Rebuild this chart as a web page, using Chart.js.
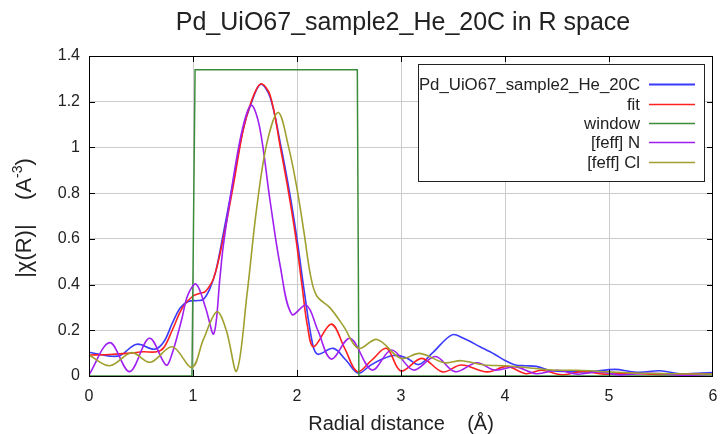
<!DOCTYPE html>
<html>
<head>
<meta charset="utf-8">
<script src="https://cdn.jsdelivr.net/npm/chart.js@4.4.1/dist/chart.umd.min.js"></script>
<style>
  html, body { margin: 0; padding: 0; background: #fff; }
  canvas { display: block; }
</style>
</head>
<body>
<canvas id="chart" width="720" height="434"></canvas>
<script>
// values (R in angstrom, |chi(R)|)
const dataR   = [0, 0.1, 0.2, 0.3, 0.46, 0.63, 0.72, 0.8, 0.88, 0.96, 1.05, 1.1, 1.16, 1.22, 1.29, 1.39, 1.48, 1.56, 1.65, 1.74, 1.84, 1.93, 2.0, 2.07, 2.15, 2.2, 2.35, 2.47, 2.59, 2.7, 2.8, 2.93, 3.05, 3.17, 3.3, 3.49, 3.6, 3.76, 3.9, 4.0, 4.1, 4.2, 4.3, 4.45, 4.6, 4.8, 5.06, 5.2, 5.3, 5.49, 5.68, 5.85, 6.0];
const dataChi = [0.104, 0.095, 0.087, 0.09, 0.139, 0.117, 0.15, 0.23, 0.3, 0.327, 0.33, 0.335, 0.38, 0.46, 0.62, 0.857, 1.076, 1.193, 1.276, 1.222, 1.018, 0.8, 0.6, 0.37, 0.14, 0.095, 0.121, 0.07, 0.012, 0.045, 0.07, 0.09, 0.08, 0.05, 0.1, 0.18, 0.165, 0.128, 0.095, 0.068, 0.048, 0.045, 0.042, 0.023, 0.02, 0.018, 0.029, 0.02, 0.016, 0.023, 0.01, 0.012, 0.015];

const fitR   = [0, 0.2, 0.4, 0.52, 0.65, 0.72, 0.8, 0.9, 1.0, 1.07, 1.12, 1.2, 1.29, 1.39, 1.48, 1.56, 1.65, 1.74, 1.84, 1.92, 1.99, 2.05, 2.1, 2.16, 2.33, 2.46, 2.58, 2.72, 2.86, 3.0, 3.2, 3.4, 3.58, 3.83, 4.02, 4.2, 4.35, 4.55, 4.74, 4.95, 5.2, 5.5, 5.8, 6.0];
const fitChi = [0.092, 0.094, 0.1, 0.106, 0.106, 0.125, 0.2, 0.3, 0.35, 0.362, 0.37, 0.43, 0.6, 0.84, 1.07, 1.2, 1.278, 1.23, 1.0, 0.8, 0.6, 0.39, 0.22, 0.128, 0.227, 0.12, 0.019, 0.07, 0.121, 0.022, 0.077, 0.018, 0.048, 0.018, 0.042, 0.01, 0.025, 0.005, 0.02, 0.008, 0.012, 0.006, 0.01, 0.008];

const windowR   = [0, 0.99, 1.02, 2.58, 2.595, 6];
const windowVal = [0, 0, 1.34, 1.34, 0, 0];

const nR   = [0, 0.2, 0.39, 0.58, 0.74, 0.79, 0.89, 0.95, 1.03, 1.12, 1.2, 1.26, 1.29, 1.39, 1.48, 1.56, 1.64, 1.74, 1.84, 1.95, 2.09, 2.2, 2.33, 2.51, 2.72, 2.91, 3.12, 3.33, 3.52, 3.73, 3.9, 4.1, 4.3, 4.5, 4.7, 4.9, 5.1, 5.4, 5.7, 6.0];
const nChi = [0.005, 0.146, 0.019, 0.165, 0.048, 0.085, 0.245, 0.354, 0.402, 0.3, 0.185, 0.434, 0.566, 0.872, 1.09, 1.185, 1.09, 0.77, 0.478, 0.27, 0.31, 0.2, 0.074, 0.165, 0.026, 0.114, 0.026, 0.085, 0.019, 0.058, 0.026, 0.04, 0.01, 0.025, 0.008, 0.018, 0.005, 0.012, 0.004, 0.008];

const clR   = [0, 0.2, 0.41, 0.59, 0.8, 0.99, 1.1, 1.23, 1.32, 1.42, 1.52, 1.61, 1.71, 1.82, 1.92, 2.0, 2.07, 2.13, 2.19, 2.32, 2.45, 2.59, 2.77, 3.0, 3.18, 3.42, 3.58, 3.8, 4.0, 4.2, 4.45, 4.7, 5.0, 5.3, 5.6, 6.0];
const clChi = [0.092, 0.045, 0.102, 0.06, 0.128, 0.038, 0.16, 0.281, 0.2, 0.022, 0.36, 0.726, 1.018, 1.153, 1.0, 0.82, 0.62, 0.44, 0.35, 0.297, 0.216, 0.121, 0.16, 0.077, 0.099, 0.058, 0.067, 0.048, 0.045, 0.037, 0.026, 0.025, 0.018, 0.012, 0.01, 0.008];

const legendLabels = ['Pd_UiO67_sample2_He_20C', 'fit', 'window', '[feff] N', '[feff] Cl'];
const colors = ['#3b3bff', '#ff2020', '#3c8c3c', '#a020f0', '#a0a030'];

const FONT = '"Liberation Sans", Arial, sans-serif';
const TEXT = '#222';

const toPoints = (xs, ys) => xs.map((x, i) => ({ x, y: ys[i] }));

const series = [
  { label: legendLabels[0], data: toPoints(dataR, dataChi), color: colors[0], order: 5 },
  { label: legendLabels[1], data: toPoints(fitR, fitChi), color: colors[1], order: 4 },
  { label: legendLabels[2], data: toPoints(windowR, windowVal), color: colors[2], order: 3, straight: true },
  { label: legendLabels[3], data: toPoints(nR, nChi), color: colors[3], order: 2 },
  { label: legendLabels[4], data: toPoints(clR, clChi), color: colors[4], order: 1 },
];

const decorations = {
  id: 'decorations',
  afterDatasetsDraw(chart) {
    const { ctx, chartArea: a, scales } = chart;
    ctx.save();
    // frame + inward ticks
    ctx.strokeStyle = '#000';
    ctx.lineWidth = 1;
    ctx.strokeRect(a.left + 0.5, a.top + 0.5, a.right - a.left - 1, a.bottom - a.top);
    ctx.beginPath();
    for (let v = 1; v < 6; v++) {
      const x = Math.round(scales.x.getPixelForValue(v)) + 0.5;
      ctx.moveTo(x, a.bottom); ctx.lineTo(x, a.bottom - 6);
      ctx.moveTo(x, a.top); ctx.lineTo(x, a.top + 6);
    }
    for (let v = 0.2; v < 1.39; v += 0.2) {
      const y = Math.round(scales.y.getPixelForValue(v)) + 0.5;
      ctx.moveTo(a.left, y); ctx.lineTo(a.left + 6, y);
      ctx.moveTo(a.right, y); ctx.lineTo(a.right - 6, y);
    }
    ctx.stroke();
    ctx.restore();
  },
  afterDraw(chart) {
    const { ctx } = chart;
    ctx.save();
    // title
    ctx.fillStyle = TEXT;
    ctx.font = `25px ${FONT}`;
    ctx.textAlign = 'center';
    ctx.textBaseline = 'middle';
    ctx.fillText('Pd_UiO67_sample2_He_20C in R space', 403, 23);

    // x title
    ctx.font = `20px ${FONT}`;
    ctx.fillText('Radial distance    (Å)', 401, 424);

    // y title, rotated
    ctx.save();
    ctx.translate(25, 218);
    ctx.rotate(-Math.PI / 2);
    ctx.textAlign = 'left';
    const p1 = '|χ(R)|    (A';
    ctx.font = `22px ${FONT}`;
    const w1 = ctx.measureText(p1).width;
    ctx.font = `14px ${FONT}`;
    const w2 = ctx.measureText('-3').width;
    ctx.font = `22px ${FONT}`;
    const w3 = ctx.measureText(')').width;
    const start = -(w1 + w2 + w3) / 2;
    ctx.fillText(p1, start, 0);
    ctx.font = `14px ${FONT}`;
    ctx.fillText('-3', start + w1, -7);
    ctx.font = `22px ${FONT}`;
    ctx.fillText(')', start + w1 + w2, 0);
    ctx.restore();

    // legend
    const box = { l: 418, t: 64, r: 704, b: 181 };
    ctx.fillStyle = '#fff';
    ctx.fillRect(box.l, box.t, box.r - box.l, box.b - box.t);
    ctx.strokeStyle = '#222';
    ctx.lineWidth = 1;
    ctx.strokeRect(box.l + 0.5, box.t + 0.5, box.r - box.l, box.b - box.t);
    const rows = [84, 104, 123, 142, 162];
    ctx.font = `16.8px ${FONT}`;
    ctx.textAlign = 'right';
    ctx.textBaseline = 'middle';
    legendLabels.forEach((lab, i) => {
      ctx.fillStyle = TEXT;
      ctx.fillText(lab, 640, rows[i] + 1);
      ctx.strokeStyle = colors[i];
      ctx.lineWidth = i === 0 ? 2 : 1.6;
      ctx.beginPath();
      ctx.moveTo(649, rows[i] + 0.5);
      ctx.lineTo(695, rows[i] + 0.5);
      ctx.stroke();
    });
    ctx.restore();
  }
};

new Chart(document.getElementById('chart'), {
  type: 'line',
  data: {
    datasets: series.map(s => ({
      label: s.label,
      data: s.data,
      borderColor: s.color,
      backgroundColor: s.color,
      borderWidth: s.straight ? 1.5 : 1.6,
      pointRadius: 0,
      fill: false,
      order: s.order,
      tension: s.straight ? 0 : 0.35,
    })),
  },
  options: {
    responsive: false,
    animation: false,
    devicePixelRatio: 1,
    layout: { padding: { top: 56, right: 7, bottom: 0, left: 0 } },
    plugins: {
      legend: { display: false },
      title: { display: false },
      tooltip: { enabled: false },
    },
    scales: {
      x: {
        type: 'linear',
        min: 0,
        max: 6,
        afterFit: s => { s.height = 58; s.paddingLeft = 0; s.paddingRight = 0; },
        ticks: { stepSize: 1, color: TEXT, font: { family: FONT, size: 16 }, padding: 11, maxRotation: 0 },
        grid: {
          drawTicks: false,
          color: ctx => (ctx.tick.value === 0 || ctx.tick.value === 6) ? 'rgba(0,0,0,0)' : '#cccccc',
        },
        border: { display: false },
      },
      y: {
        min: 0,
        max: 1.4,
        afterFit: s => { s.width = 89; s.paddingTop = 0; s.paddingBottom = 0; },
        ticks: {
          stepSize: 0.2, color: TEXT, font: { family: FONT, size: 16 }, padding: 9,
          callback: v => String(+v.toFixed(1)),
        },
        grid: {
          drawTicks: false,
          color: ctx => (ctx.tick.value < 0.01 || ctx.tick.value > 1.39) ? 'rgba(0,0,0,0)' : '#cccccc',
        },
        border: { display: false },
      },
    },
  },
  plugins: [decorations],
});
</script>
</body>
</html>
